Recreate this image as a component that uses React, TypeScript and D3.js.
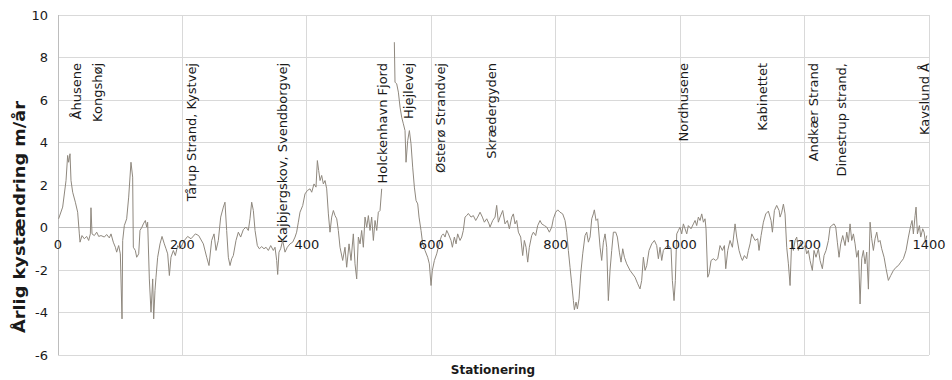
import React from "react";
import * as d3 from "d3";

const stations = [
  1, 7.5, 12.9, 15.5, 17.1, 19.3, 20.9, 23.6, 27.9, 31.6, 34.3, 35.4, 38.6, 42.3, 46.1, 49.3, 52, 53, 54.7, 58.4,
  62.2, 65.4, 69.1, 74.5, 78.2, 82.5, 85.2, 88.9, 92.2, 94.3, 97.5, 100.2, 102.9, 104, 106.6, 110.4, 113.6, 117.3, 120, 121.1,
  124.3, 126.5, 129.7, 131.8, 135, 137.2, 140.4, 142.5, 144.1, 146.8, 149.5, 152.2, 153.8, 155.9, 157.5, 160.2, 164, 167.2, 170.9, 173.6,
  176.3, 179, 181.6, 185.4, 188.6, 192.4, 196.1, 203.1, 208.4, 213.8, 220.8, 226.1,
  233.6, 239, 242.7, 247, 250.8, 254, 257.7, 261.5, 265.8, 268.4, 271.1, 273.8, 276.5, 279.2, 281.8, 286.1, 289.9, 293.6, 297.9, 302.2,
  305.9, 308.6, 311.3, 314, 316.7, 320.4, 323.6, 327.4, 331.1, 334.4, 338.1, 341.9, 346.1, 348.8, 351.5, 353.1, 355.2, 357.9, 361.1, 364.9,
  368.6, 372.9, 377.2, 381, 383.6, 386.3, 389, 393.3, 397, 400.8, 405.1, 407.8, 411.5, 414.7, 416.9, 419, 421.2, 423.8, 426.5, 429.2,
  431.9, 434.6, 437.2, 439.9, 442.6, 445.3, 448, 450.6, 453.3, 457.6,
  461.3, 464, 467.8, 471, 474.7, 477.4, 480.1, 482.8, 485.5, 488.1, 490.8, 493.5, 496.2, 498.9, 501.5, 504.2, 506.9, 509.6, 512.3, 514.9,
  517.6, 520.3, 530, 540.6, 541.7, 544.4, 547.1, 549.8, 552.4, 555.1, 557.8, 559.4, 562.1, 564.8, 567.4, 570.1, 572.8, 575.5, 578.2, 580.3,
  583.5, 586.2, 589.9, 594.2, 596.9, 599.6, 601.7, 605, 608.7, 611.4, 614.1, 616.7, 619.4, 622.1, 624.8, 627.5, 631.7, 633.9, 637.1, 639.8,
  642.4, 646.2, 648.9, 651.5, 654.2, 656.9, 659.6, 663.9, 667.6, 671.4, 674.6, 678.4, 682.1, 685.3, 689.1, 692.8,
  694.4, 698.7, 702.5, 705.1, 707.8, 710.5, 714.8, 718.5, 722.3, 725.5, 729.3, 731.9, 734.6, 737.3, 740, 743.7, 746.9, 749.6, 752.3, 755,
  757.6, 761.4, 764.1, 767.8, 771, 774.8, 777.5, 781.8, 785.5, 789.8, 793.6, 796.2, 800, 803.2, 806.9, 811.2, 815, 817.7, 820.3, 823,
  825.7, 828.4, 830, 832.7, 834.8, 837.5, 840.2, 843.4, 847.1, 849.8, 852.5, 855.2, 857.9, 860.5, 862.1, 864.8, 867.5, 871.3, 873.9, 876.6,
  879.3, 882, 884.6, 887.3, 890, 892.7, 896.4, 899.1, 902.3, 905, 907.7, 910.4, 914.1, 919.5,
  927.5, 931.8, 935.5, 938.2, 940.9, 943.6, 946.3, 950, 954.3, 958.6, 962.3, 965, 967.7, 970.4, 973, 976.8, 981.1, 985.4, 987.5, 990.2,
  992.3, 994.5, 997.2, 999.8, 1002.5, 1005.2, 1007.9, 1010.6, 1013.2, 1017.5, 1021.3, 1024, 1026.6, 1029.3, 1032, 1034.7, 1037.4, 1040, 1041.6, 1044.3,
  1046.5, 1049.7, 1053.4, 1057.2, 1060.4, 1064.1, 1067.9, 1071.1, 1073.3, 1076.5, 1080.2, 1084, 1088.3, 1090.9, 1094.7, 1097.9, 1100.1, 1103.3, 1107, 1109.7,
  1112.4, 1115.1, 1117.7, 1120.4, 1124.7, 1126.8, 1130.1, 1133.8, 1137.6, 1141.8, 1146.1, 1148.3, 1151.5, 1155.2, 1159,
  1160.6, 1163.3, 1166, 1168.6, 1171.3, 1174, 1176.7, 1179.3, 1182, 1184.7, 1187.4, 1190, 1193.8, 1197, 1200.8, 1203.4, 1206.1, 1208.8, 1212.5, 1215.2,
  1218.4, 1222.2, 1224.9, 1228.6, 1231.3, 1234.5, 1238.3, 1241, 1243.6, 1247.4, 1250.1, 1252.7, 1255.4, 1258.1, 1261.3, 1265.1, 1267.8, 1270.4, 1273.1, 1275.8,
  1278.5, 1281.2, 1283.8, 1286.5, 1289.2, 1291.9, 1294.5, 1297.2, 1299.9, 1302.6, 1305.3, 1307.9, 1310.6, 1313.3, 1316, 1318.6, 1321.3, 1324, 1327.8, 1331,
  1334.7, 1338.5, 1342.8, 1347.1, 1350.8, 1354.6, 1358.8, 1363.1, 1366.9, 1370.6, 1372.8, 1374.9, 1377.6, 1379.2, 1381.4, 1384.6, 1386.7, 1389.9, 1392.1, 1394.2,
  1396.4,
];

const changes: (number | null)[] = [
  0.41, 0.96, 2.21, 3.39, 3.07, 3.47, 2.21, 1.66, 1.19, 0.72, -0.3, -0.69, -0.38, -0.53, -0.42, -0.61, -0.3, 0.93, -0.3, -0.38,
  -0.22, -0.42, -0.38, -0.45, -0.33, -0.49, -0.3, -0.69, -0.93, -1.16, -0.85, -1.24, -4.3, -0.61, 0.09, 0.41, 1.43, 3.07, 2.37, -0.93,
  -1.08, -1.4, -1.24, -0.14, 0.02, 0.17, 0.33, 0.02, 0.25, -2.42, -3.98, -2.42, -4.3, -2.96, -2.34, -1.4, -0.77, -0.42, -0.77, -1.0,
  -1.24, -2.26, -1.4, -1.08, -1.32, -0.85, -1.0, -0.61, -0.42, -0.53, -0.3, -0.38,
  -0.77, -1.4, -1.79, -0.61, -0.3, -1.08, -0.61, 0.49, 0.96, 1.19, -0.14, -1.4, -1.79, -1.47, -1.32, -0.61, -0.22, -0.45, -0.1, 0.02,
  -0.14, 0.41, 1.19, 0.8, -0.14, -0.85, -1.0, -0.9, -1.0, -0.93, -1.08, -0.85, -1.08, -0.93, -1.55, -2.21, -1.16, -1.0, -0.61, -1.16,
  -0.93, -0.77, -0.69, -0.45, -0.22, 0.25, 0.72, 1.03, 1.58, 1.74, 1.82, 1.66, 2.05, 1.9, 3.15, 2.68, 2.21, 2.45, 2.05, 2.21,
  1.82, 0.64, -0.22, 0.49, 0.8, 0.56, 0.41, -0.14, -0.93, -1.55,
  -0.93, -1.87, -0.77, -1.55, -0.3, -1.71, -2.42, -0.45, -0.77, -0.14, -0.93, 0.49, 0.01, 0.56, -0.14, 0.49, -0.61, 0.33, -0.14, 0.72,
  0.8, 1.82, null, 8.72, 6.84, 6.76, 6.37, 5.66, 5.19, 4.88, 4.56, 3.07, 4.09, 4.56, 3.94, 2.84, 1.9, 1.27, 1.11, 0.49,
  -0.14, -0.77, -1.08, -1.4, -1.71, -2.73, -2.02, -1.55, -1.24, -0.93, -0.61, -0.38, -0.3, -0.45, -0.14, -0.3, -0.61, -0.93, -0.45, -0.77,
  -0.3, -0.61, -0.45, -0.14, 0.49, 0.56, 0.66, 0.49, 0.56, 0.33, 0.49, 0.72, 0.49, 0.25, 0.41, 0.17,
  0.02, 0.33, 0.49, 1.04, 0.25, 0.49, 0.8, 0.17, 0.33, -0.06, 0.49, 0.64, 0.17, 0.33, -0.22, -0.45, -1.32, -0.61, -0.93, -1.63,
  -0.93, -0.38, -0.22, -0.38, 0.09, 0.33, 0.17, 0.09, 0.02, -0.22, 0.02, 0.41, 0.72, 0.83, 0.72, 0.64, 0.33, -0.22, -1.08, -1.87,
  -2.65, -3.44, -3.87, -3.51, -3.83, -3.36, -2.18, -1.24, -0.38, -0.22, -0.69, -0.45, 0.41, 0.64, 0.83, 0.33, 0.41, -0.93, -1.55, -0.69,
  -0.3, -0.93, -3.44, -2.02, -1.08, -0.22, -0.22, -0.45, -1.16, -1.63, -1.0, -1.4, -1.71, -2.02,
  -2.34, -2.65, -2.89, -2.49, -1.4, -2.02, -1.79, -1.08, -0.77, -0.61, -0.85, -1.47, -0.93, -1.55, -1.08, -0.93, -0.85, -1.0, -2.49, -3.44,
  -2.49, -0.3, -0.14, 0.02, -0.3, 0.17, -0.06, -0.3, 0.09, -0.06, 0.17, 0.33, 0.09, 0.49, 0.33, 0.64, 0.25, 0.41, -0.06, -2.34,
  -2.18, -1.55, -1.47, -1.55, -1.47, -0.85, -1.08, -0.85, -1.94, -1.08, -0.61, -0.93, 0.17, -0.45, -1.08, -1.4, -1.55, -1.32, -1.47, -1.08,
  -0.77, -0.3, -0.45, -0.61, -0.53, -1.08, -0.38, 0.25, 0.64, 0.77, 0.33, -0.22, 0.8, 1.04, 0.8,
  0.49, 0.72, 1.1, 0.64, -0.93, -1.71, -2.73, -0.61, -1.08, -0.61, -0.45, -1.08, -0.69, -1.0, -0.85, -1.24, -1.08, -1.55, -2.02, -1.08,
  -1.4, -1.0, -1.55, -1.94, -1.32, -1.08, -0.61, 0.02, 0.09, 0.17, 0.02, -0.69, -1.4, -0.77, -0.38, -0.85, -0.22, -0.69, 0.17, -0.61,
  -0.3, -0.77, -1.4, -1.08, -3.6, -1.47, -1.08, -1.71, -1.16, -2.9, 0.25, -0.53, -1.08, -0.53, -0.22, -0.69, -0.61, -1.0, -1.4, -1.94,
  -2.49, -2.26, -2.02, -1.87, -1.79, -1.63, -1.47, -1.08, -0.45, 0.09, 0.33, -0.3, 0.56, 0.96, -0.3, 0.09, -0.45, -0.06, -0.22, -0.69,
  -0.38,
];

const placeNames = [
  "Åhusene", "Kongshøj", "Tårup Strand, Kystvej", "Kajbjergskov, Svendborgvej", "Holckenhavn Fjord",
  "Hjejlevej", "Østerø Strandvej", "Skrædergyden", "Nordhusene", "Kabinettet", "Andkær Strand",
  "Dinestrup strand,", "Kavslund Å",
];
const placeStations = [29, 64, 215, 360, 521, 563, 614, 696, 1006, 1132, 1215, 1260, 1392];

const xTicks = [0, 200, 400, 600, 800, 1000, 1200, 1400];
const yTicks = [-6, -4, -2, 0, 2, 4, 6, 8, 10];

const yTitle = "Årlig kystændring m/år";
const xTitle = "Stationering";

export default function App() {
  const W = 952;
  const H = 380;
  const x = d3.scaleLinear().domain([0, 1400]).range([58, 929]);
  const y = d3.scaleLinear().domain([-6, 10]).range([355, 15]);

  const pts = stations.map((s, i) => ({ s, v: changes[i] }));
  const line = d3
    .line<{ s: number; v: number | null }>()
    .defined((d) => d.v !== null)
    .x((d) => x(d.s))
    .y((d) => y(d.v as number));

  const font = "'DejaVu Sans', Verdana, sans-serif";

  return (
    <div style={{ position: "absolute", left: 0, top: 0 }}>
      <svg width={W} height={H} style={{ display: "block", background: "#fff" }} fontFamily={font}>
        {yTicks.map((t) => (
          <line key={"gy" + t} x1={x(0)} x2={x(1400)} y1={y(t)} y2={y(t)} stroke={t === 0 ? "#bdbdbd" : "#d9d9d9"} strokeWidth={1} shapeRendering="crispEdges" />
        ))}
        {xTicks.map((t) => (
          <line key={"gx" + t} x1={x(t)} x2={x(t)} y1={y(10)} y2={y(-6)} stroke={t === 0 ? "#bdbdbd" : "#d9d9d9"} strokeWidth={1} shapeRendering="crispEdges" />
        ))}
        {placeNames.map((n, i) => (
          <text
            key={n}
            transform={`translate(${x(placeStations[i])},63) rotate(-90)`}
            textAnchor="end"
            dy="0.35em"
            fontSize={13}
            fill="#1a1a1a"
          >
            {n}
          </text>
        ))}
        <path d={line(pts) || ""} fill="none" stroke="#8f887e" strokeWidth={1} />
        {xTicks.map((t) => (
          <text key={"tx" + t} x={x(t)} y={y(0) + 21} textAnchor="middle" fontSize={13} fill="#1a1a1a">
            {t}
          </text>
        ))}
        {yTicks.map((t) => (
          <text key={"ty" + t} x={48} y={y(t)} dy="0.35em" textAnchor="end" fontSize={13} fill="#1a1a1a">
            {t}
          </text>
        ))}
        <text
          transform="translate(19,217) rotate(-90)"
          textAnchor="middle"
          dy="0.35em"
          fontSize={16}
          fontWeight="bold"
          fill="#1a1a1a"
          textLength={232}
          lengthAdjust="spacingAndGlyphs"
        >
          {yTitle}
        </text>
        <text x={493} y={374} textAnchor="middle" fontSize={12} fontWeight="bold" fill="#1a1a1a">
          {xTitle}
        </text>
      </svg>
    </div>
  );
}
